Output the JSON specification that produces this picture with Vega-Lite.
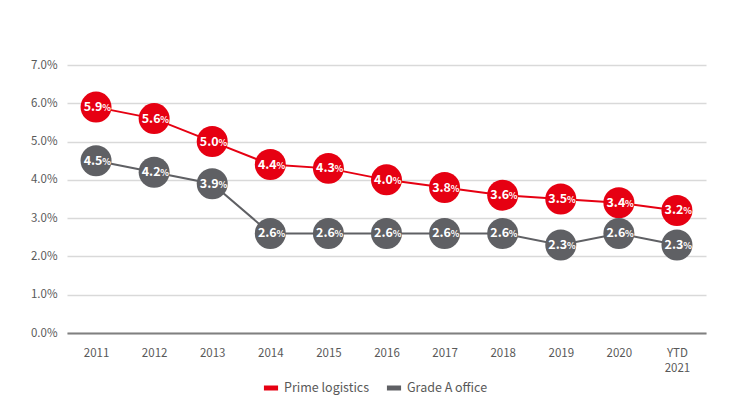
{
  "$schema": "https://vega.github.io/schema/vega-lite/v6.json",
  "width": 639,
  "height": 268,
  "autosize": {"type": "none"},
  "padding": {"left": 67, "top": 65, "right": 38, "bottom": 85},
  "background": "white",
  "config": {"view": {"stroke": null}, "font": "Noto Sans CJK JP"},
  "data": {"values": [
    {"year": "2011", "series": "Prime logistics", "v": 5.9},
    {"year": "2012", "series": "Prime logistics", "v": 5.6},
    {"year": "2013", "series": "Prime logistics", "v": 5.0},
    {"year": "2014", "series": "Prime logistics", "v": 4.4},
    {"year": "2015", "series": "Prime logistics", "v": 4.3},
    {"year": "2016", "series": "Prime logistics", "v": 4.0},
    {"year": "2017", "series": "Prime logistics", "v": 3.8},
    {"year": "2018", "series": "Prime logistics", "v": 3.6},
    {"year": "2019", "series": "Prime logistics", "v": 3.5},
    {"year": "2020", "series": "Prime logistics", "v": 3.4},
    {"year": "YTD 2021", "series": "Prime logistics", "v": 3.2},
    {"year": "2011", "series": "Grade A office", "v": 4.5},
    {"year": "2012", "series": "Grade A office", "v": 4.2},
    {"year": "2013", "series": "Grade A office", "v": 3.9},
    {"year": "2014", "series": "Grade A office", "v": 2.6},
    {"year": "2015", "series": "Grade A office", "v": 2.6},
    {"year": "2016", "series": "Grade A office", "v": 2.6},
    {"year": "2017", "series": "Grade A office", "v": 2.6},
    {"year": "2018", "series": "Grade A office", "v": 2.6},
    {"year": "2019", "series": "Grade A office", "v": 2.3},
    {"year": "2020", "series": "Grade A office", "v": 2.6},
    {"year": "YTD 2021", "series": "Grade A office", "v": 2.3}
  ]},
  "encoding": {
    "x": {"field": "year", "type": "nominal", "sort": null,
      "scale": {"paddingInner": 0, "paddingOuter": 0},
      "axis": {"title": null, "labelAngle": 0, "labelColor": "#595959", "labelFontSize": 11.5,
        "domainColor": "#808080", "domainWidth": 2, "ticks": false, "labelPadding": 14,
        "labelExpr": "datum.value == 'YTD 2021' ? ['YTD', '2021'] : datum.value", "labelLineHeight": 15}},
    "y": {"field": "v", "type": "quantitative",
      "scale": {"domain": [0, 7]},
      "axis": {"title": null, "values": [0,1,2,3,4,5,6,7], "labelExpr": "format(datum.value, '.1f') + '%'",
        "labelColor": "#595959", "labelFontSize": 11.5, "domain": false, "ticks": false, "labelPadding": 10,
        "gridColor": "#d9d9d9", "gridWidth": 1.5}},
    "color": {"field": "series", "type": "nominal",
      "scale": {"domain": ["Prime logistics", "Grade A office"], "range": ["#e60012", "#5f6064"]},
      "legend": {"title": null, "orient": "none", "legendX": 194, "legendY": 313, "direction": "horizontal", "symbolType": "stroke",
        "symbolStrokeWidth": 5, "symbolSize": 200, "labelFontSize": 12.5, "labelColor": "#595959",
        "columnPadding": 6, "labelOffset": 3}}
  },
  "layer": [
    {"mark": {"type": "line", "strokeWidth": 2}},
    {"mark": {"type": "circle", "size": 960, "opacity": 1}},
    {"mark": {"type": "text", "fontWeight": "bold", "fontSize": 12.5, "dx": -3},
     "encoding": {"text": {"field": "v", "type": "quantitative", "format": ".1f"}, "color": {"value": "white"}}},
    {"mark": {"type": "text", "fontWeight": "bold", "fontSize": 9, "dx": 10.5, "dy": 1},
     "encoding": {"text": {"value": "%"}, "color": {"value": "white"}}}
  ]
}
